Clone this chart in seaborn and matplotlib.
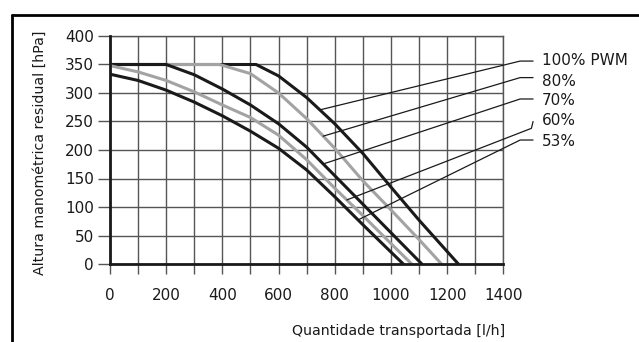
import matplotlib
matplotlib.use("Agg")
import matplotlib.pyplot as plt
import seaborn as sns
import numpy as np
import pandas as pd
from matplotlib.lines import Line2D
from matplotlib.ticker import MultipleLocator

# ---- data ----
speeds = ["100% PWM", "80%", "70%", "60%", "53%"]

flow_100 = [0, 520, 600, 700, 800, 900, 1000, 1100, 1240]
head_100 = [350, 350, 330, 292, 246, 194, 135, 77, 0]

flow_80 = [0, 390, 500, 600, 700, 800, 900, 1000, 1100, 1180]
head_80 = [350, 350, 334, 300, 255, 203, 146, 95, 43, 0]

flow_70 = [0, 200, 300, 400, 500, 600, 700, 800, 900, 1000, 1110]
head_70 = [350, 350, 332, 307, 279, 246, 205, 155, 105, 55, 0]

flow_60 = [0, 100, 200, 300, 400, 500, 600, 700, 800, 900, 1000, 1074]
head_60 = [348, 337, 322, 302, 279, 257, 226, 183, 133, 85, 36, 0]

flow_53 = [0, 100, 200, 300, 400, 500, 600, 700, 800, 900, 1000, 1044]
head_53 = [333, 322, 305, 284, 260, 233, 203, 165, 118, 69, 21, 0]

x_ticks = [0, 200, 400, 600, 800, 1000, 1200, 1400]
y_ticks = [0, 50, 100, 150, 200, 250, 300, 350, 400]

flows = [flow_100, flow_80, flow_70, flow_60, flow_53]
heads = [head_100, head_80, head_70, head_60, head_53]

df = pd.concat(
    [pd.DataFrame({"flow": f, "head": h, "speed": s}) for s, f, h in zip(speeds, flows, heads)],
    ignore_index=True,
)

# ---- style ----
sns.set_style("white")
plt.rcParams["font.family"] = ["DejaVu Sans"]

W, H = 639, 342
fig = plt.figure(figsize=(W / 100, H / 100), dpi=100)
ax = fig.add_axes([110 / W, 1 - 264 / H, (503.3 - 110) / W, (264 - 36) / H])

palette = {"100% PWM": "#1a1a1a", "80%": "#a3a3a3", "70%": "#1a1a1a", "60%": "#a3a3a3", "53%": "#1a1a1a"}
sns.lineplot(data=df, x="flow", y="head", hue="speed", palette=palette, estimator=None,
             sort=False, linewidth=2.2, legend=False, ax=ax, zorder=3)
for ln in ax.get_lines():
    ln.set_solid_joinstyle("round")

ax.set_xlim(0, 1400)
ax.set_ylim(0, 400)
ax.xaxis.set_minor_locator(MultipleLocator(100))
ax.set_xticks(x_ticks)
ax.set_yticks(y_ticks)
ax.set_xticklabels([str(t) for t in x_ticks])
ax.set_yticklabels([str(t) for t in y_ticks])

grid_c = "#555555"
ax.grid(True, which="both", color=grid_c, linewidth=1.0, zorder=1)
ax.set_axisbelow(True)

ax.tick_params(axis="x", which="both", direction="out", length=7, width=1.0, color=grid_c,
               pad=10, labelsize=11, labelcolor="#1a1a1a", bottom=True)
ax.tick_params(axis="y", which="major", direction="out", length=8.5, width=1.0, color=grid_c,
               pad=3, labelsize=11, labelcolor="#1a1a1a", left=True)

for side in ["top", "right"]:
    ax.spines[side].set_visible(True)
    ax.spines[side].set_color(grid_c)
    ax.spines[side].set_linewidth(1.0)
for side in ["left", "bottom"]:
    ax.spines[side].set_visible(True)
    ax.spines[side].set_color("#1a1a1a")
    ax.spines[side].set_linewidth(2.0)
    ax.spines[side].set_zorder(4)

ax.set_xlabel("")
ax.set_ylabel("")

fig.text(40 / W, 1 - 153 / H, "Altura manométrica residual [hPa]", rotation=90,
         ha="center", va="center", fontsize=10.2, color="#1a1a1a")
fig.text(505 / W, 1 - 331 / H, "Quantidade transportada [l/h]",
         ha="right", va="center", fontsize=10.2, color="#1a1a1a")

# ---- labels with leader lines ----
attach_x = [747, 759, 759, 843, 883]
text_y = [356.5, 321, 286.5, 251.5, 214.5]
seg_y = [356, 327, 289.5, None, 217.5]
for s, f, h, ax_x, ty, sy in zip(speeds, flows, heads, attach_x, text_y, seg_y):
    ay = float(np.interp(ax_x, f, h))
    if sy is not None:
        ax.plot([ax_x, 1460, 1506], [ay, sy, sy], color="#1a1a1a", lw=0.9,
                clip_on=False, zorder=5)
    else:
        ax.plot([ax_x, 1500, 1506], [ay, 238, 250], color="#1a1a1a", lw=0.9,
                clip_on=False, zorder=5)
    ax.text(1537, ty, s, ha="left", va="center", fontsize=11, color="#1a1a1a",
            clip_on=False)

# ---- outer frame (top and left) ----
fig.add_artist(Line2D([12 / W, 1], [1 - 15 / H, 1 - 15 / H], transform=fig.transFigure,
                      color="black", lw=2.0))
fig.add_artist(Line2D([12 / W, 12 / W], [0, 1 - 15 / H], transform=fig.transFigure,
                      color="black", lw=2.0))

fig.savefig("out.png", dpi=100, facecolor="white")
